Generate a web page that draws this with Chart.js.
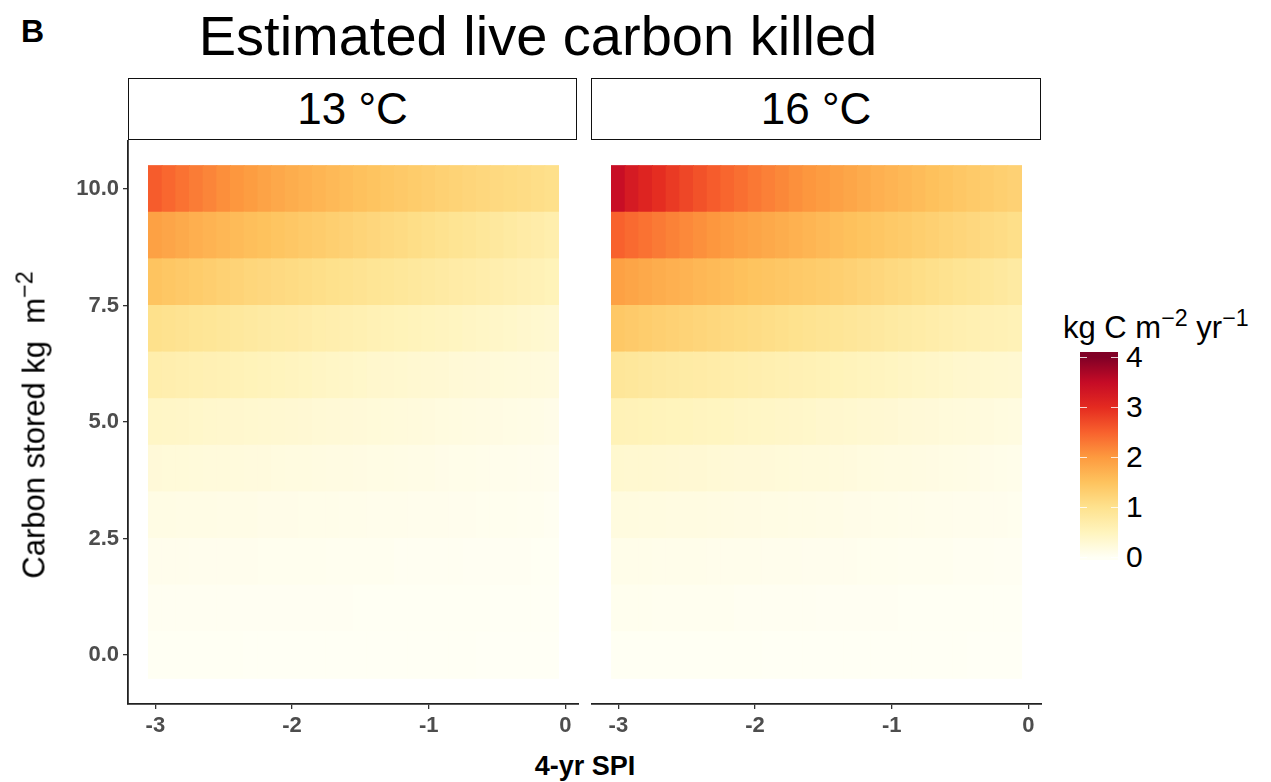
<!DOCTYPE html>
<html>
<head>
<meta charset="utf-8">
<script src="https://cdn.jsdelivr.net/npm/chart.js@4.4.0/dist/chart.umd.min.js"></script>
<style>
  body { margin: 0; background: #fff; font-family: 'Liberation Sans', Arial, sans-serif; }
  #wrap { position: relative; width: 1271px; height: 782px; overflow: hidden; }
  .t { position: absolute; white-space: nowrap; color: #000; }
  .strip { position: absolute; top: 78px; height: 60px; border: 1.5px solid #111; font-size: 44px; line-height: 60px; text-align: center; }
  canvas { position: absolute; }
  sup { font-size: 75%; vertical-align: 0.5em; line-height: 0; }
</style>
</head>
<body>
<div id="wrap">
  <div class="t" style="left:21px;top:15px;font-size:32px;line-height:32px;font-weight:bold;">B</div>
  <div class="t" id="title" style="left:538px;top:8px;font-size:56px;line-height:56px;transform:translateX(-50%);">Estimated live carbon killed</div>
  <div class="strip" style="left:128px;width:447px;">13 °C</div>
  <div class="strip" style="left:591px;width:448px;">16 °C</div>
  <canvas id="c13" width="539" height="610" style="left:40px;top:140px;"></canvas>
  <canvas id="c16" width="451" height="610" style="left:591px;top:140px;"></canvas>
  <div class="t" style="left:34px;top:425px;font-size:31px;line-height:31px;transform:translate(-50%,-50%) rotate(-90deg);">Carbon stored kg&nbsp; m<sup>−2</sup></div>
  <div class="t" style="left:585px;top:766px;font-size:27px;line-height:27px;font-weight:bold;transform:translate(-50%,-50%);">4-yr SPI</div>
  <div class="t" style="left:1063px;top:312px;font-size:31px;line-height:31px;">kg C m<sup>−2</sup> yr<sup>−1</sup></div>
  <div id="legend"></div>
</div>
<script>
// SPI (x) column centres and carbon-stored (y) row centres
const spiValues = [-3.0, -2.9, -2.8, -2.7, -2.6, -2.5, -2.4, -2.3, -2.2, -2.1,
                   -2.0, -1.9, -1.8, -1.7, -1.6, -1.5, -1.4, -1.3, -1.2, -1.1,
                   -1.0, -0.9, -0.8, -0.7, -0.6, -0.5, -0.4, -0.3, -0.2, -0.1];
const carbonRows = [0, 1, 2, 3, 4, 5, 6, 7, 8, 9, 10];

const xTicks = [-3, -2, -1, 0];
const yTicks = [0, 2.5, 5, 7.5, 10];
const legendTicks = [0, 1, 2, 3, 4];

// live carbon killed, kg C m-2 yr-1 ; one array per carbon row (0 .. 10)
const killed13 = [
  [0.02,0.02,0.02,0.02,0.02,0.02,0.02,0.01,0.01,0.01,0.01,0.01,0.01,0.01,0.01,0.01,0.01,0.01,0.01,0.01,0.01,0.01,0.01,0.01,0.00,0.00,0.00,0.00,0.00,0.00],
  [0.04,0.04,0.04,0.04,0.04,0.04,0.03,0.03,0.03,0.03,0.03,0.03,0.03,0.03,0.03,0.02,0.02,0.02,0.02,0.02,0.02,0.02,0.02,0.02,0.02,0.01,0.01,0.01,0.01,0.01],
  [0.08,0.08,0.08,0.07,0.07,0.07,0.07,0.07,0.06,0.06,0.06,0.06,0.06,0.05,0.05,0.05,0.05,0.05,0.04,0.04,0.04,0.04,0.04,0.03,0.03,0.03,0.03,0.03,0.02,0.02],
  [0.15,0.15,0.14,0.14,0.14,0.13,0.13,0.13,0.12,0.12,0.12,0.11,0.11,0.11,0.10,0.10,0.09,0.09,0.09,0.08,0.08,0.08,0.07,0.07,0.06,0.06,0.06,0.05,0.05,0.04],
  [0.26,0.25,0.25,0.24,0.23,0.23,0.22,0.21,0.21,0.20,0.19,0.19,0.18,0.17,0.17,0.16,0.15,0.15,0.14,0.13,0.13,0.12,0.11,0.11,0.10,0.09,0.09,0.08,0.08,0.07],
  [0.42,0.41,0.40,0.38,0.37,0.36,0.35,0.34,0.33,0.32,0.31,0.30,0.29,0.28,0.27,0.26,0.25,0.24,0.23,0.22,0.21,0.20,0.19,0.18,0.17,0.16,0.15,0.14,0.13,0.12],
  [0.68,0.66,0.64,0.62,0.60,0.58,0.56,0.54,0.52,0.50,0.48,0.46,0.44,0.42,0.40,0.38,0.36,0.35,0.34,0.32,0.31,0.30,0.28,0.27,0.26,0.25,0.24,0.23,0.22,0.21],
  [1.02,0.99,0.96,0.93,0.90,0.87,0.84,0.81,0.78,0.76,0.74,0.71,0.68,0.66,0.64,0.62,0.59,0.56,0.54,0.52,0.50,0.48,0.46,0.44,0.42,0.40,0.38,0.36,0.34,0.32],
  [1.48,1.44,1.40,1.36,1.32,1.28,1.24,1.20,1.17,1.14,1.11,1.08,1.05,1.02,0.99,0.96,0.93,0.90,0.87,0.84,0.81,0.78,0.75,0.72,0.69,0.66,0.63,0.60,0.57,0.54],
  [1.92,1.86,1.80,1.75,1.70,1.65,1.60,1.55,1.51,1.47,1.43,1.39,1.35,1.31,1.27,1.23,1.19,1.15,1.11,1.07,1.03,0.99,0.95,0.91,0.87,0.83,0.79,0.75,0.71,0.67],
  [2.55,2.45,2.35,2.26,2.18,2.10,2.03,1.96,1.89,1.83,1.77,1.72,1.67,1.62,1.57,1.52,1.48,1.44,1.40,1.36,1.32,1.28,1.25,1.21,1.18,1.15,1.12,1.09,1.06,1.03]
];

const killed16 = [
  [0.02,0.02,0.02,0.02,0.02,0.02,0.02,0.02,0.02,0.02,0.02,0.01,0.01,0.01,0.01,0.01,0.01,0.01,0.01,0.01,0.01,0.01,0.01,0.01,0.01,0.01,0.00,0.00,0.00,0.00],
  [0.06,0.06,0.06,0.05,0.05,0.05,0.05,0.05,0.05,0.04,0.04,0.04,0.04,0.04,0.04,0.03,0.03,0.03,0.03,0.03,0.03,0.02,0.02,0.02,0.02,0.02,0.02,0.01,0.01,0.01],
  [0.11,0.11,0.11,0.10,0.10,0.10,0.10,0.09,0.09,0.09,0.09,0.08,0.08,0.08,0.07,0.07,0.07,0.07,0.06,0.06,0.06,0.05,0.05,0.05,0.05,0.04,0.04,0.04,0.03,0.03],
  [0.20,0.20,0.19,0.19,0.18,0.18,0.18,0.17,0.17,0.16,0.16,0.15,0.15,0.14,0.14,0.13,0.13,0.12,0.12,0.11,0.11,0.10,0.10,0.09,0.09,0.08,0.08,0.07,0.07,0.06],
  [0.34,0.33,0.33,0.32,0.31,0.30,0.30,0.29,0.28,0.27,0.27,0.26,0.25,0.24,0.23,0.23,0.22,0.21,0.20,0.19,0.18,0.18,0.17,0.16,0.15,0.14,0.13,0.12,0.11,0.10],
  [0.56,0.55,0.54,0.52,0.51,0.50,0.48,0.47,0.46,0.44,0.43,0.42,0.40,0.39,0.38,0.36,0.35,0.34,0.32,0.31,0.30,0.28,0.27,0.26,0.24,0.23,0.22,0.21,0.20,0.19],
  [0.88,0.86,0.83,0.80,0.78,0.76,0.74,0.72,0.70,0.68,0.66,0.64,0.62,0.60,0.58,0.56,0.54,0.52,0.50,0.48,0.46,0.44,0.42,0.40,0.38,0.36,0.35,0.34,0.33,0.32],
  [1.42,1.38,1.34,1.30,1.27,1.24,1.21,1.18,1.15,1.12,1.09,1.06,1.03,1.00,0.97,0.94,0.91,0.88,0.85,0.82,0.79,0.76,0.73,0.70,0.67,0.64,0.62,0.60,0.58,0.56],
  [1.92,1.87,1.82,1.77,1.73,1.69,1.65,1.61,1.57,1.53,1.49,1.46,1.43,1.40,1.37,1.34,1.31,1.27,1.23,1.19,1.15,1.11,1.07,1.03,0.99,0.95,0.91,0.87,0.83,0.79],
  [2.50,2.42,2.35,2.28,2.21,2.15,2.09,2.03,1.97,1.92,1.87,1.82,1.77,1.72,1.67,1.62,1.57,1.53,1.49,1.45,1.41,1.37,1.33,1.29,1.25,1.21,1.17,1.13,1.09,1.05],
  [3.45,3.25,3.10,2.97,2.85,2.74,2.64,2.55,2.46,2.38,2.30,2.23,2.16,2.09,2.03,1.97,1.91,1.85,1.79,1.73,1.68,1.63,1.58,1.53,1.48,1.43,1.39,1.35,1.31,1.27]
];

// colour scale (value -> colour), YlOrRd-like
const colorStops = [
  [0, '#fffff5'], [0.5, '#fff4bd'], [1, '#fee28e'], [1.5, '#fec35e'], [2, '#fd9a3f'],
  [2.5, '#f8612d'], [3, '#e42a20'], [3.5, '#c50b26'], [4, '#800026']
];

function hexToRgb(h) {
  return [parseInt(h.slice(1, 3), 16), parseInt(h.slice(3, 5), 16), parseInt(h.slice(5, 7), 16)];
}

function colorFor(v) {
  if (v <= colorStops[0][0]) return colorStops[0][1];
  for (let i = 1; i < colorStops.length; i++) {
    if (v <= colorStops[i][0]) {
      const [v0, c0] = colorStops[i - 1];
      const [v1, c1] = colorStops[i];
      const t = (v - v0) / (v1 - v0);
      const a = hexToRgb(c0), b = hexToRgb(c1);
      const m = a.map((x, k) => Math.round(x + (b[k] - x) * t));
      return `rgb(${m[0]},${m[1]},${m[2]})`;
    }
  }
  return colorStops[colorStops.length - 1][1];
}

Chart.defaults.font.family = "'Liberation Sans', Arial, sans-serif";

// keep the plot area fixed: no automatic padding for edge labels
function noPad(s) {
  s.paddingTop = 0; s.paddingBottom = 0; s.paddingLeft = 0; s.paddingRight = 0;
}

function panelConfig(values, showY) {
  return {
    type: 'bar',
    data: {
      datasets: carbonRows.map((c, i) => ({
        data: spiValues.map(s => ({ x: s, y: [c - 0.5, c + 0.5] })),
        backgroundColor: values[i].map(colorFor),
        borderWidth: 0,
        inflateAmount: 0.5,
        grouped: false,
        barPercentage: 1,
        categoryPercentage: 1
      }))
    },
    options: {
      responsive: false,
      animation: false,
      layout: { padding: 0 },
      plugins: { legend: { display: false }, tooltip: { enabled: false } },
      scales: {
        x: {
          type: 'linear',
          offset: false,
          min: -3.2, max: 0.1,
          afterBuildTicks: s => { s.ticks = xTicks.map(v => ({ value: v })); },
          afterFit: s => { s.height = 46; noPad(s); },
          grid: { display: true, offset: false, drawOnChartArea: false, drawTicks: true, tickLength: 5, color: '#333', lineWidth: 1.3 },
          border: { display: true, color: '#222', width: 1.8 },
          ticks: { color: '#4d4d4d', font: { size: 22, weight: 'bold' }, padding: 4, maxRotation: 0, callback: v => String(v) }
        },
        y: {
          type: 'linear',
          display: showY,
          min: -1.05, max: 11.05,
          afterBuildTicks: s => { s.ticks = yTicks.map(v => ({ value: v })); },
          afterFit: s => { s.width = showY ? 88 : 0; noPad(s); },
          grid: { display: true, drawOnChartArea: false, drawTicks: true, tickLength: 5, color: '#333', lineWidth: 1.3 },
          border: { display: true, color: '#222', width: 1.8 },
          ticks: { color: '#4d4d4d', font: { size: 22, weight: 'bold' }, padding: 4, callback: v => v.toFixed(1) }
        }
      }
    }
  };
}

new Chart(document.getElementById('c13'), panelConfig(killed13, true));
new Chart(document.getElementById('c16'), panelConfig(killed16, false));

// colour bar legend
const cbarMin = -0.05, cbarMax = 4.1;
const cbarTop = 352, pxPerUnit = 50, cbarLeft = 1080, cbarWidth = 38;
const yOf = v => cbarTop + (cbarMax - v) * pxPerUnit;
const grad = colorStops.map(([v, c]) => `${c} ${((v - cbarMin) / (cbarMax - cbarMin) * 100).toFixed(1)}%`).join(', ');
const leg = document.getElementById('legend');
let html = `<div style="position:absolute;left:${cbarLeft}px;top:${cbarTop}px;width:${cbarWidth}px;height:${(cbarMax - cbarMin) * pxPerUnit}px;background:linear-gradient(to top, ${colorStops[0][1]} 0%, ${grad});"></div>`;
legendTicks.forEach(v => {
  const y = yOf(v);
  html += `<div style="position:absolute;left:${cbarLeft}px;top:${y - 0.5}px;width:7px;height:1px;background:rgba(255,255,255,0.8)"></div>`;
  html += `<div style="position:absolute;left:${cbarLeft + cbarWidth - 7}px;top:${y - 0.5}px;width:7px;height:1px;background:rgba(255,255,255,0.8)"></div>`;
  html += `<div class="t" style="left:${cbarLeft + 46}px;top:${y - 15}px;font-size:30px;line-height:30px;">${v}</div>`;
});
leg.innerHTML = html;
</script>
</body>
</html>
